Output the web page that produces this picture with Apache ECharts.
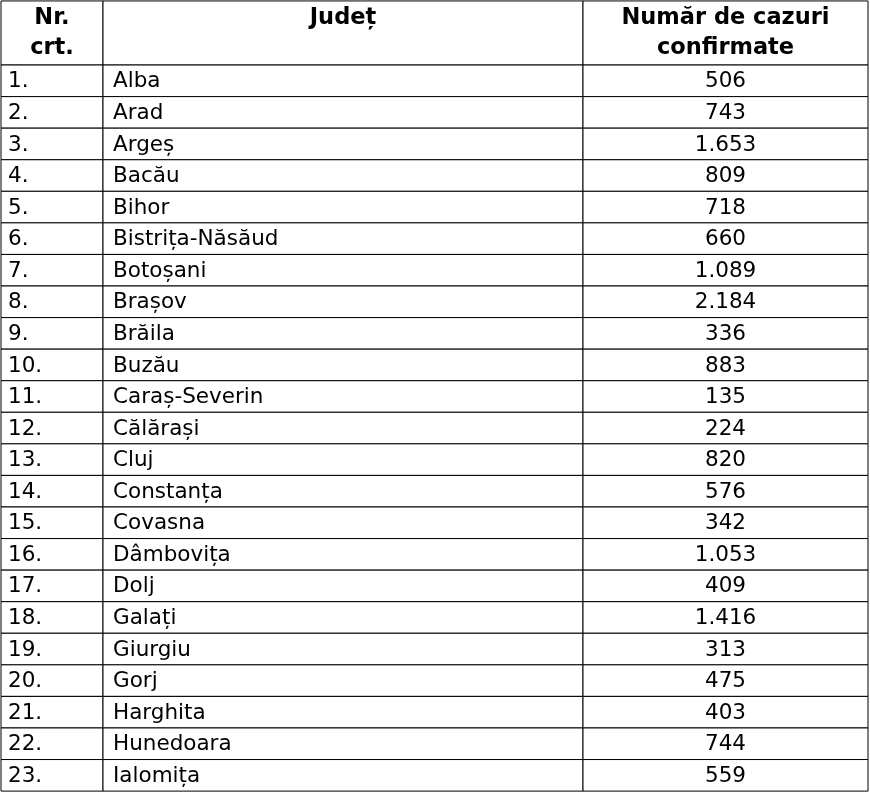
<!DOCTYPE html>
<html>
<head>
<meta charset="utf-8">
<script src="https://cdn.jsdelivr.net/npm/echarts@6/dist/echarts.min.js"></script>
<style>html,body{margin:0;padding:0;background:#fff}#c{width:870px;height:793px}</style>
</head>
<body>
<div id="c"></div>
<script>
// date tabel
let headers = ['Nr.\ncrt.', 'Județ', 'Număr de cazuri\nconfirmate'];
let nrCrt = ['1.', '2.', '3.', '4.', '5.', '6.', '7.', '8.', '9.', '10.', '11.', '12.',
    '13.', '14.', '15.', '16.', '17.', '18.', '19.', '20.', '21.', '22.', '23.'];
let judete = ['Alba', 'Arad', 'Argeș', 'Bacău', 'Bihor', 'Bistrița-Năsăud', 'Botoșani',
    'Brașov', 'Brăila', 'Buzău', 'Caraș-Severin', 'Călărași', 'Cluj', 'Constanța',
    'Covasna', 'Dâmbovița', 'Dolj', 'Galați', 'Giurgiu', 'Gorj', 'Harghita',
    'Hunedoara', 'Ialomița'];
let cazuri = ['506', '743', '1.653', '809', '718', '660', '1.089', '2.184', '336', '883',
    '135', '224', '820', '576', '342', '1.053', '409', '1.416', '313', '475', '403',
    '744', '559'];

var myChart = echarts.init(document.getElementById('c'));

let colEdges = [1, 103, 583, 868];
let headH = 2.06; // header height in row units
let font = '"DejaVu Sans", Verdana, sans-serif';

function renderItem(params, api) {
    let r = api.value(0); // -1 = header
    let top = r < 0 ? 0.03 : headH + r;
    let bottom = r < 0 ? headH : headH + r + 1;
    let p0 = api.coord([0, top]);
    let p1 = api.coord([0, bottom]);
    let children = [];
    for (let c = 0; c < 3; c++) {
        let x0 = api.coord([colEdges[c], 0])[0];
        let x1 = api.coord([colEdges[c + 1], 0])[0];
        children.push({
            type: 'rect',
            shape: { x: x0, y: p0[1], width: x1 - x0, height: p1[1] - p0[1] },
            style: { fill: '#fff', stroke: '#000', lineWidth: 1 }
        });
        let txt, tx, align;
        if (r < 0) {
            txt = headers[c]; tx = (x0 + x1) / 2; align = 'center';
        } else {
            txt = [nrCrt, judete, cazuri][c][r];
            if (c == 2) { tx = (x0 + x1) / 2; align = 'center'; }
            else { tx = x0 + (c == 0 ? 7 : 10); align = 'left'; }
        }
        children.push({
            type: 'text',
            style: {
                text: txt, x: tx, y: r < 0 ? p0[1] + 2 : (p0[1] + p1[1]) / 2 + 1,
                align: align, verticalAlign: r < 0 ? 'top' : 'middle',
                font: r < 0 ? 'bold 22.5px ' + font : '21.5px ' + font,
                lineHeight: 30, fill: '#000'
            }
        });
    }
    return { type: 'group', children: children };
}

let rows = [[-1]];
nrCrt.forEach(function (v, i) { rows.push([i]); });

let option = {
    animation: false,
    grid: { left: 0, right: 0, top: 0, bottom: 0 },
    xAxis: { type: 'value', min: 0, max: 870, show: false },
    yAxis: { type: 'value', min: 0, max: headH + 23 + 0.06, inverse: true, show: false },
    series: [{
        type: 'custom',
        renderItem: renderItem,
        data: rows
    }]
};

myChart.setOption(option);
</script>
</body>
</html>
